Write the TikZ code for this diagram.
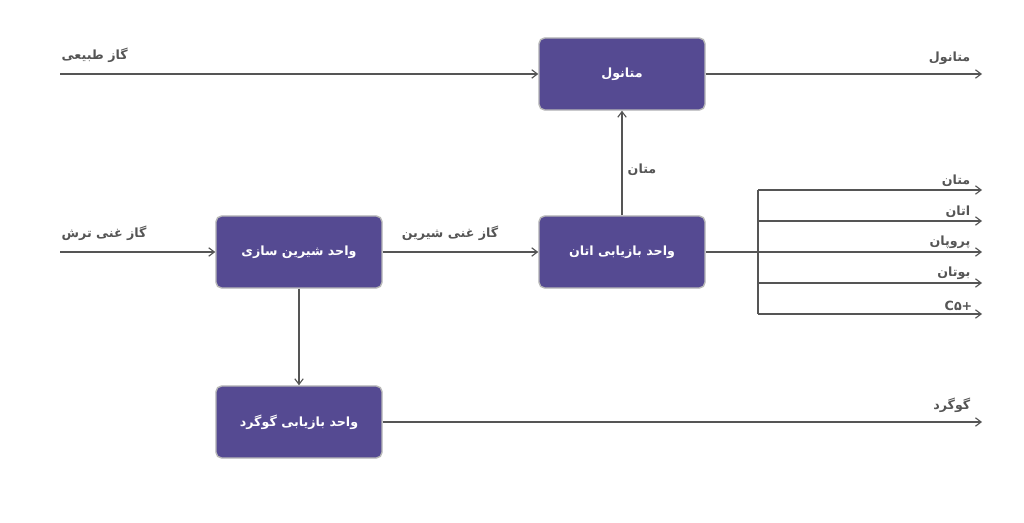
\documentclass[tikz,border=0pt]{standalone}
\usepackage{fontspec}
\newfontfamily\arabicfont[Script=Arabic]{DejaVu Sans}
\TeXXeTstate=1
\usetikzlibrary{arrows.meta, positioning, calc}
\definecolor{unitfill}{HTML}{554A92}
\definecolor{unitedge}{HTML}{B8B8B8}
\definecolor{flowgray}{HTML}{555555}
\newcommand{\fa}[1]{\arabicfont\beginR #1\endR}
\begin{document}
\begin{tikzpicture}[x=0.025cm, y=-0.025cm,
    unit/.style={draw=unitedge, line width=1pt, fill=unitfill, rounded corners=4pt, minimum width=4.15cm, minimum height=1.8cm, text=white, font=\arabicfont\bfseries\small, align=center},
    flow/.style={-{Straight Barb[length=4pt, width=6pt]}, draw=flowgray, line width=0.8pt},
    lbl/.style={text=flowgray, font=\arabicfont\bfseries\small, inner sep=1pt}
]
    \useasboundingbox (0,0) rectangle (1024,523);
    % Units
    \node[unit] (methanol) at (622,74) {\fa{متانول}};
    \node[unit] (ethane) at (622,252) {\fa{واحد بازیابی اتان}};
    \node[unit] (sweet) at (299,252) {\fa{واحد شیرین سازی}};
    \node[unit] (sulfur) at (299,422) {\fa{واحد بازیابی گوگرد}};

    % Inputs
    \coordinate (ngin) at (60,74);
    \coordinate (sourin) at (60,252);
    \draw[flow] (ngin) -- (methanol.west);
    \draw[flow] (sourin) -- (sweet.west);
    \node[lbl, anchor=south west] at (60,64) {\fa{گاز طبیعی}};
    \node[lbl, anchor=south west] at (60,242) {\fa{گاز غنی ترش}};

    % Internal flows
    \draw[flow] (sweet.east) -- (ethane.west);
    \node[lbl, anchor=south] at (450,242) {\fa{گاز غنی شیرین}};
    \draw[flow] (ethane.north) -- (methanol.south);
    \node[lbl, anchor=west] at (626,170) {\fa{متان}};
    \draw[flow] (sweet.south) -- (sulfur.north);

    % Outputs
    \coordinate (meout) at (982,74);
    \coordinate (sout) at (982,422);
    \draw[flow] (methanol.east) -- (meout);
    \draw[flow] (sulfur.east) -- (sout);
    \node[lbl, anchor=south east] at (972,66) {\fa{متانول}};
    \node[lbl, anchor=south east] at (972,414) {\fa{گوگرد}};

    \coordinate (split) at (758,252);
    \draw[draw=flowgray, line width=0.8pt] (ethane.east) -- (split);
    \draw[draw=flowgray, line width=0.8pt] (758,190) -- (758,314);
    \foreach \yy/\name in {190/{متان}, 221/{اتان}, 252/{پروپان}, 283/{بوتان}} {
        \draw[flow] (758,\yy) -- (982,\yy);
        \node[lbl, anchor=south east] at (972,\yy-2) {\fa{\name}};
    }
    \draw[flow] (758,314) -- (982,314);
    \node[lbl, anchor=south east] at (974,312) {\arabicfont C۵+};
\end{tikzpicture}
\end{document}
